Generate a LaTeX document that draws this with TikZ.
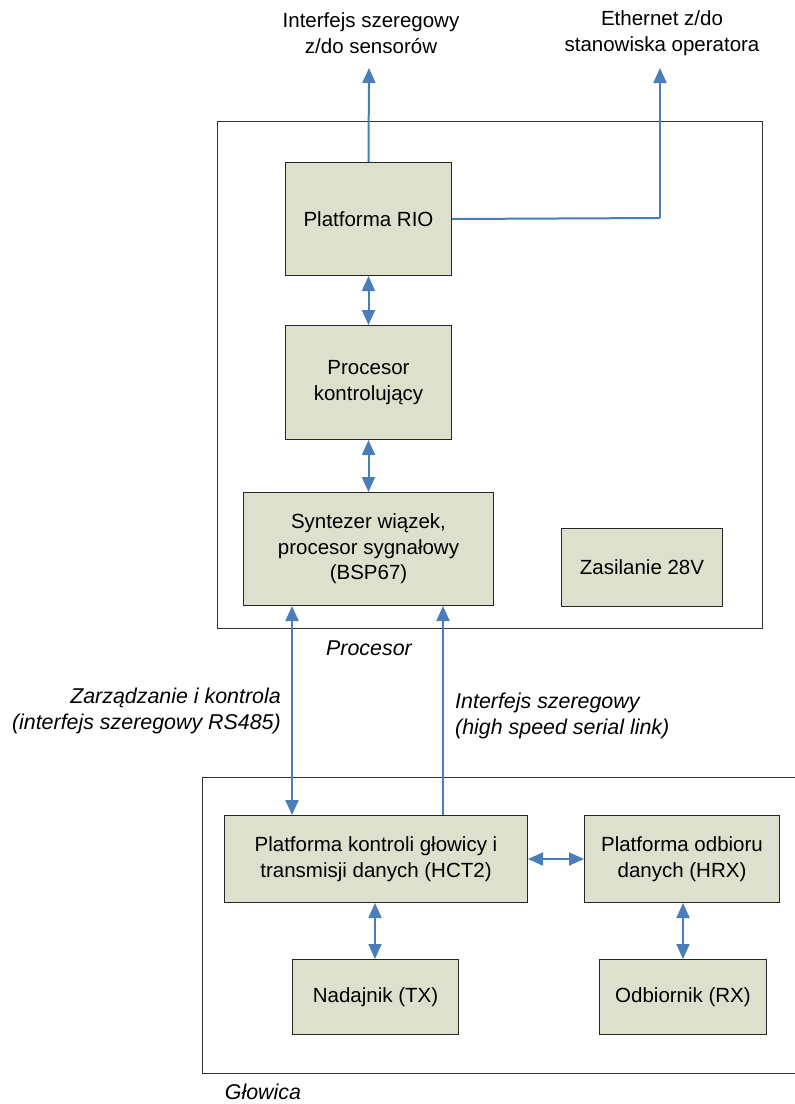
\documentclass[tikz,border=0pt]{standalone}
\usepackage{fontspec}
\setmainfont{Liberation Sans}
\usetikzlibrary{arrows.meta,positioning}
\definecolor{boxfill}{HTML}{DDE0CC}
\definecolor{linkblue}{HTML}{4A7EBB}
\tikzset{
  box/.style={draw=black!85, fill=boxfill, line width=1pt, align=center, inner sep=0pt, anchor=north west,
    font=\fontsize{20.5}{25.5}\selectfont},
  outer/.style={draw=black!80, line width=1.2pt, inner sep=0pt, anchor=north west},
  lbl/.style={font=\fontsize{20.5}{25.5}\selectfont, align=center, inner sep=0pt},
  ilbl/.style={font=\fontsize{21.4}{26}\selectfont\itshape, inner sep=0pt},
  uni/.style={draw=linkblue, line width=2pt, -{Triangle[width=13pt,length=15pt]}},
  bi/.style={draw=linkblue, line width=2pt, {Triangle[width=13pt,length=15pt]}-{Triangle[width=13pt,length=15pt]}},
  plain/.style={draw=linkblue, line width=2pt},
}
\begin{document}
\begin{tikzpicture}[x=1pt,y=-1pt]
\useasboundingbox (0,0) rectangle (795,1104);
\clip (0,0) rectangle (795,1104);
% outer containers
\node[outer, minimum width=545pt, minimum height=507pt] (proc) at (217,121) {};
\node[outer, minimum width=600pt, minimum height=296pt] (glow) at (202,777) {};
% boxes
\node[box, minimum width=166pt, minimum height=113pt] (rio) at (285,162) {Platforma RIO};
\node[box, minimum width=166pt, minimum height=114pt] (kon) at (285,325) {Procesor\\kontrolujący};
\node[box, minimum width=250pt, minimum height=113pt] (syn) at (243,492) {Syntezer wiązek,\\procesor sygnałowy\\(BSP67)};
\node[box, minimum width=161pt, minimum height=78pt] (zas) at (561,528) {Zasilanie 28V};
\node[box, minimum width=303pt, minimum height=87pt] (hct) at (224,815) {Platforma kontroli głowicy i\\transmisji danych (HCT2)};
\node[box, minimum width=195pt, minimum height=87pt] (hrx) at (584,815) {Platforma odbioru\\danych (HRX)};
\node[box, minimum width=166pt, minimum height=75pt] (tx) at (292,959) {Nadajnik (TX)};
\node[box, minimum width=167pt, minimum height=75pt] (rx) at (599,959) {Odbiornik (RX)};
% labels
\node[lbl] (lsens) at (371,33) {Interfejs szeregowy\\z/do sensorów};
\node[lbl] (leth) at (662,33) {Ethernet z/do\\stanowiska operatora};
\node[ilbl] (lproc) at (369,648) {Procesor};
\node[ilbl, align=right, anchor=east] (lzar) at (281,711) {Zarządzanie i kontrola\\(interfejs szeregowy RS485)};
\node[ilbl, align=left, anchor=west] (lhs) at (455,716) {Interfejs szeregowy\\(high speed serial link)};
\node[ilbl] (lglow) at (263,1092) {Głowica};
% coordinates
\coordinate (tsens) at (369,68);
\coordinate (teth) at (660,68);
\coordinate (ecor) at (660,218);
\coordinate (lx) at (292,0);
\coordinate (rx1) at (443,0);
% connectors
\draw[uni] (rio.north) -- (tsens);
\draw[plain] (rio.east) -- (ecor);
\draw[uni] (ecor) -- (teth);
\draw[bi] (rio.south) -- (kon.north);
\draw[bi] (kon.south) -- (kon.south |- syn.north);
\draw[bi] (syn.south -| lx) -- (hct.north -| lx);
\draw[uni] (hct.north -| rx1) -- (syn.south -| rx1);
\draw[bi] (hct.east) -- (hrx.west);
\draw[bi] (hct.south -| 375,0) -- (tx.north -| 375,0);
\draw[bi] (hrx.south -| 683,0) -- (rx.north -| 683,0);
\end{tikzpicture}
\end{document}
